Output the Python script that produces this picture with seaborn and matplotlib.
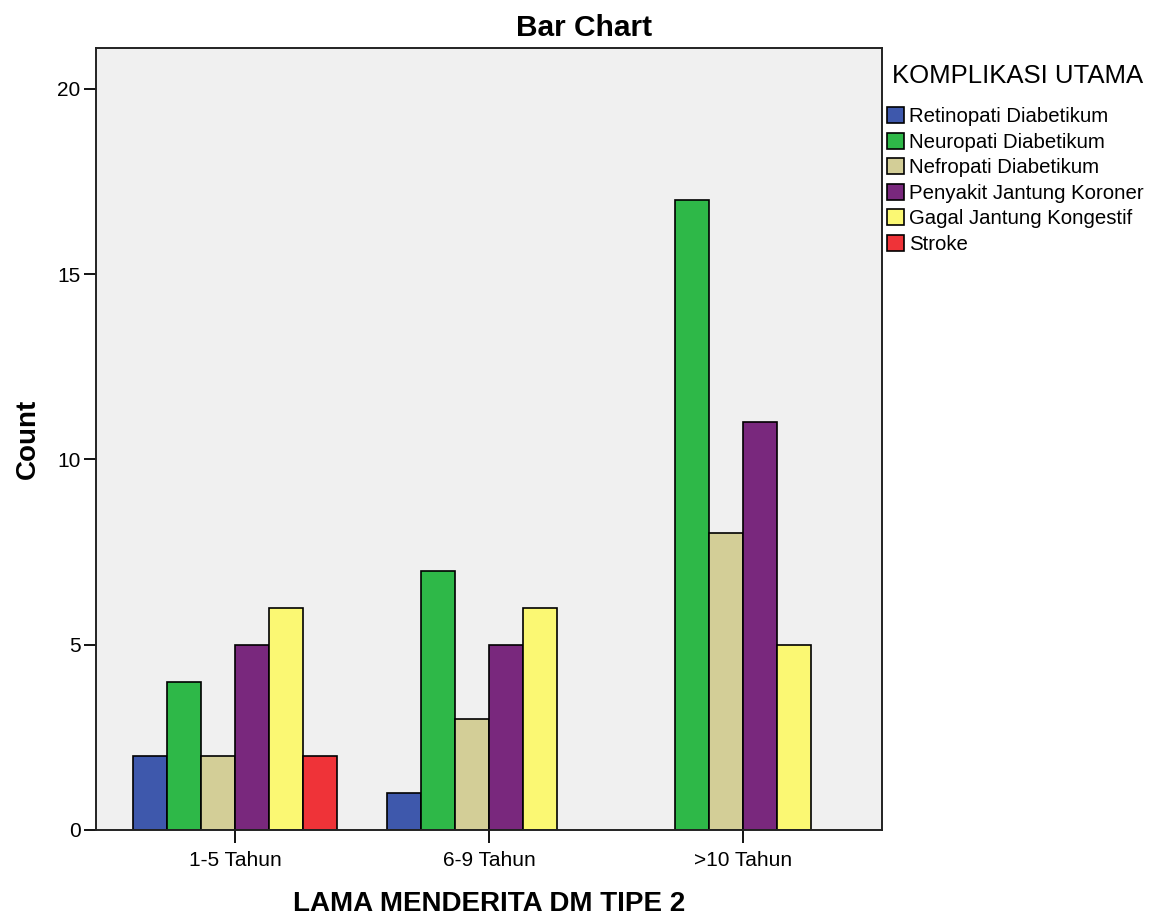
import numpy as np
import pandas as pd
import seaborn as sns
import matplotlib.pyplot as plt

# datos
lama = ["1-5 Tahun", "6-9 Tahun", ">10 Tahun"]
komplikasi = ["Retinopati Diabetikum", "Neuropati Diabetikum", "Nefropati Diabetikum",
              "Penyakit Jantung Koroner", "Gagal Jantung Kongestif", "Stroke"]
count_1_5 = [2, 4, 2, 5, 6, 2]
count_6_9 = [1, 7, 3, 5, 6, 0]
count_10 = [0, 17, 8, 11, 5, 0]
warna = ["#3E58AC", "#2EB848", "#D3CE97", "#79287D", "#FBF873", "#EF3338"]

rows = []
for grupo, valores in zip(lama, [count_1_5, count_6_9, count_10]):
    for k, v in zip(komplikasi, valores):
        if v > 0:  # SPSS no dibuja barras vacias
            rows.append({"lama": grupo, "komplikasi": k, "count": v})
df = pd.DataFrame(rows)

sns.set_theme(style="white")
plt.rcParams['font.family'] = ['Liberation Sans', 'DejaVu Sans']
plt.rcParams['text.color'] = 'black'
plt.rcParams['axes.labelcolor'] = 'black'
plt.rcParams['xtick.color'] = 'black'
plt.rcParams['ytick.color'] = 'black'

fig = plt.figure(figsize=(11.61, 9.18), dpi=100)
ax = fig.add_axes([0.0827, 0.0959, 0.677, 0.8519])
ax.set_facecolor("#F0F0F0")

sns.barplot(data=df, x="lama", y="count", hue="komplikasi", order=lama,
            hue_order=komplikasi, palette=warna, width=0.8,
            edgecolor="black", linewidth=1.2, saturation=1, ax=ax)

ax.set_xlim(-0.547, 2.547)
ax.set_ylim(0, 21.1)
ax.set_yticks([0, 5, 10, 15, 20])
ax.tick_params(axis="both", which="major", direction="out", length=9, width=1.3,
               color="black", labelsize=15, left=True, bottom=True)
ax.tick_params(axis="y", pad=2)
ax.tick_params(axis="x", pad=6)
for s in ax.spines.values():
    s.set_color("#222222")
    s.set_linewidth(1.4)

# el titulo de SPSS va centrado en toda la figura
fig.text(0.503, 0.970, "Bar Chart", fontsize=21.5, fontweight="bold",
         ha="center", va="center")
ax.set_xlabel("LAMA MENDERITA DM TIPE 2", fontsize=20, fontweight="bold", labelpad=15)
ax.set_ylabel("Count", fontsize=20, fontweight="bold", labelpad=12)

leg = ax.legend(title="KOMPLIKASI UTAMA", loc="upper left", bbox_to_anchor=(1.006, 0.98),
                frameon=False, fontsize=14.7, title_fontsize=18.5, handlelength=0.85,
                handleheight=0.85, handletextpad=0.25, labelspacing=0.31,
                borderaxespad=0.0, borderpad=0.0)
leg._legend_box.align = "left"
leg._legend_box.sep = 14
leg.get_title().set_position((5, 0))

fig.savefig("out.png", dpi=100)
